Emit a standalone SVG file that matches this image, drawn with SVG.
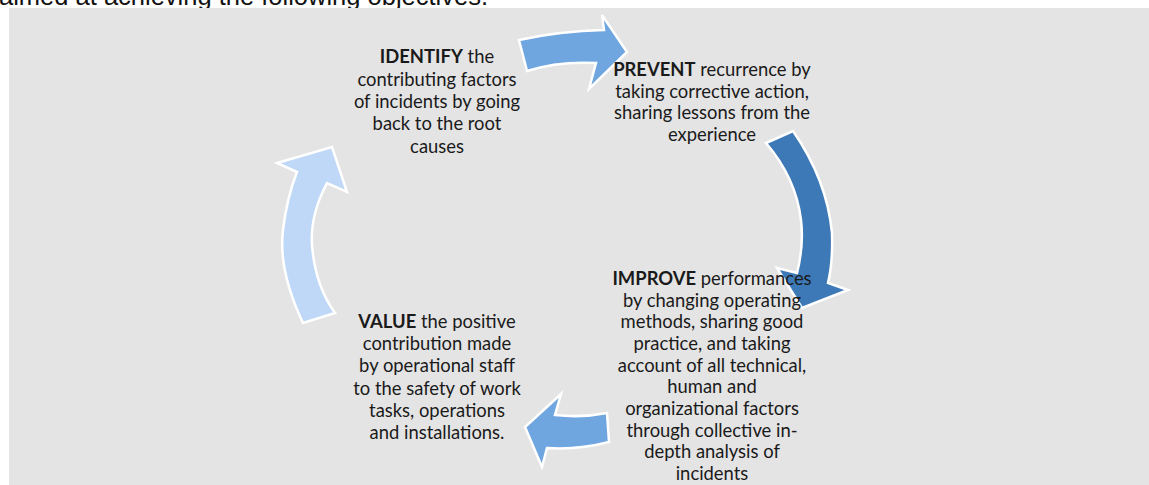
<svg xmlns="http://www.w3.org/2000/svg" width="1149" height="485" viewBox="0 0 1149 485">
<style>
.t{font-family:Lato,"Liberation Sans",sans-serif;font-size:18.4px;fill:#1a1a1a;text-anchor:middle}
.b{font-weight:bold}
.arr{stroke:#ffffff;stroke-width:2.5;stroke-linejoin:miter}
.mid{fill:#6fa6e0}
.dark{fill:#3d79b6}
.light{fill:#bfd8f7}
.cap{font-family:"Liberation Sans",Arial,sans-serif;font-size:25.5px;fill:#111}
</style>
<rect x="0" y="0" width="1149" height="485" fill="#ffffff"/>
<text class="cap" x="-1" y="4.5">aimed at achieving the following objectives.</text>
<rect x="9" y="8" width="1140" height="477" fill="#e4e4e4"/>
<g id="connectors">
<path class="arr mid" d="M519,40 Q560,31 604,30 L602,15 L627,52 L589,89 L596,63 Q558,61 527,71 Z"/>
<path class="arr dark" d="M766,143 L793,131 Q827,180 832,233 Q833,262 828,283 L848,290 L802,308 L777,268 L797,273 Q804,245 801,220 Q796,178 766,143 Z"/>
<path class="arr mid" d="M607,413 L609,442 Q578,450 547,448 L542,467 L525,427 L561,394 L555,415 Q582,418 607,413 Z"/>
<path class="arr light" d="M303,323 Q278,270 283,230 Q287,197 297,172 L277,163 L332,147 L347,192 L327,183 Q310,215 312,245 Q315,285 335,313 Z"/>
</g>
<g id="node-identify">
<text class="t" x="437" y="63"><tspan class="b">IDENTIFY</tspan> the</text>
<text class="t" x="437" y="85.5">contributing factors</text>
<text class="t" x="437" y="108">of incidents by going</text>
<text class="t" x="437" y="130">back to the root</text>
<text class="t" x="437" y="152.5">causes</text>
</g>
<g id="node-prevent">
<text class="t" x="712" y="76"><tspan class="b">PREVENT</tspan> recurrence by</text>
<text class="t" x="712" y="97.7">taking corrective action,</text>
<text class="t" x="712" y="119">sharing lessons from the</text>
<text class="t" x="712" y="140.5">experience</text>
</g>
<g id="node-improve">
<text class="t" x="712" y="285"><tspan class="b">IMPROVE</tspan> performances</text>
<text class="t" x="712" y="306.7">by changing operating</text>
<text class="t" x="712" y="328.3">methods, sharing good</text>
<text class="t" x="712" y="350">practice, and taking</text>
<text class="t" x="712" y="371.7">account of all technical,</text>
<text class="t" x="712" y="393.3">human and</text>
<text class="t" x="712" y="415">organizational factors</text>
<text class="t" x="712" y="436.7">through collective in-</text>
<text class="t" x="712" y="458.3">depth analysis of</text>
<text class="t" x="712" y="480">incidents</text>
</g>
<g id="node-value">
<text class="t" x="437" y="328"><tspan class="b">VALUE</tspan> the positive</text>
<text class="t" x="437" y="350">contribution made</text>
<text class="t" x="437" y="372">by operational staff</text>
<text class="t" x="437" y="394.5">to the safety of work</text>
<text class="t" x="437" y="416.5">tasks, operations</text>
<text class="t" x="437" y="438.5">and installations.</text>
</g>
</svg>
